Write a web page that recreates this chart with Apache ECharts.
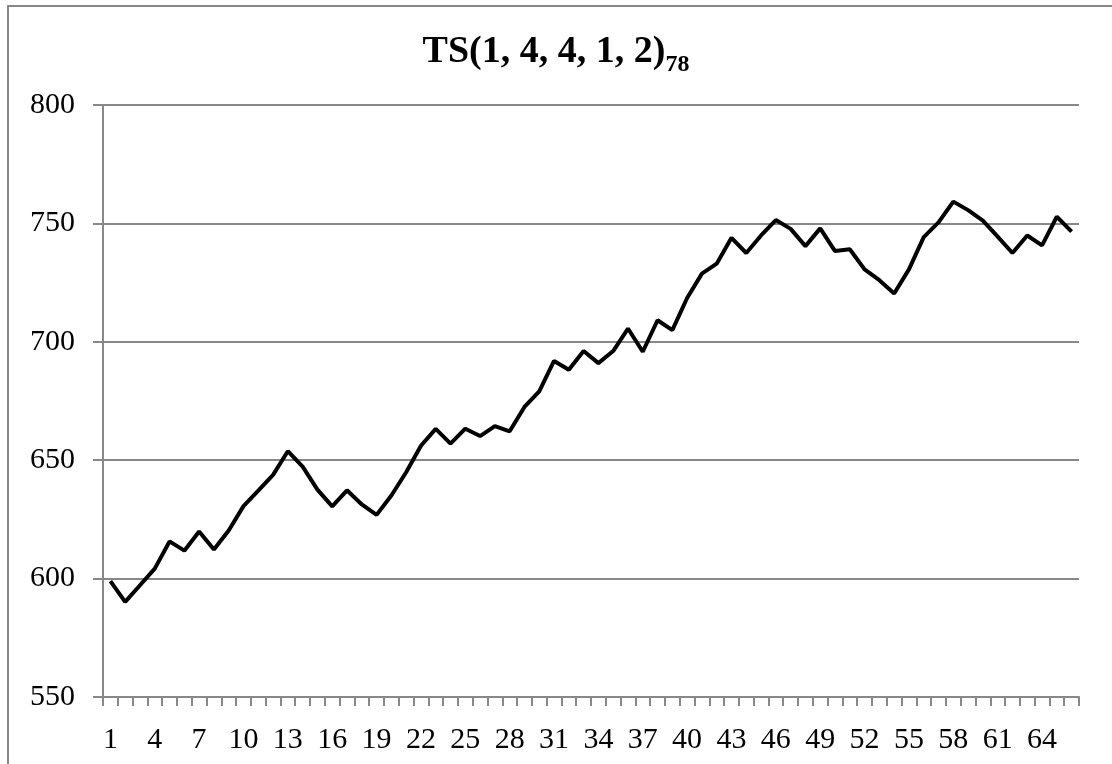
<!DOCTYPE html>
<html>
<head>
<meta charset="utf-8">
<script src="https://cdn.jsdelivr.net/npm/echarts@6/dist/echarts.min.js"></script>
<style>
html,body{margin:0;padding:0;background:#fff;}
#chart{width:1112px;height:764px;}
</style>
</head>
<body>
<div id="chart"></div>
<script>
var titleMain = 'TS(1, 4, 4, 1, 2)';
var titleSub = '78';
var categories = [];
for (var i = 1; i <= 66; i++) categories.push(String(i));
var values = [
  598.9, 590.2, 597.2, 604.2, 615.7, 611.8, 619.9, 612.3, 620.3, 630.6,
  637.2, 643.8, 653.8, 647.3, 637.6, 630.5, 637.3, 631.3, 626.9, 635.1,
  644.9, 656.1, 663.2, 657.0, 663.3, 660.2, 664.4, 662.2, 672.5, 679.1,
  691.9, 688.2, 696.1, 691.0, 696.1, 705.6, 695.8, 709.1, 704.9, 718.5,
  728.8, 733.0, 743.9, 737.5, 744.9, 751.4, 747.7, 740.4, 747.9, 738.3,
  739.1, 730.6, 726.0, 720.4, 730.6, 744.2, 750.4, 759.2, 755.6, 751.2,
  744.4, 737.5, 744.9, 740.7, 752.8, 746.5
];
var yMin = 550, yMax = 800, yStep = 50;

var font = '"Liberation Serif", "DejaVu Serif", serif';
var gray = '#888888';
var chart = echarts.init(document.getElementById('chart'), null, {renderer: 'canvas'});
chart.setOption({
  backgroundColor: '#ffffff',
  animation: false,
  title: {
    text: '{a|' + titleMain + '}{b|' + titleSub + '}',
    left: 'center',
    top: 28,
    textStyle: {
      rich: {
        a: {fontFamily: font, fontSize: 38, fontWeight: 'bold', color: '#000', lineHeight: 44, verticalAlign: 'top'},
        b: {fontFamily: font, fontSize: 24, fontWeight: 'bold', color: '#000', lineHeight: 43, verticalAlign: 'bottom'}
      }
    }
  },
  graphic: [{
    type: 'rect',
    shape: {x: 8, y: 6, width: 1200, height: 900},
    style: {fill: 'none', stroke: gray, lineWidth: 2},
    silent: true
  }],
  grid: {left: 103, right: 33, top: 105, bottom: 67, containLabel: false},
  xAxis: {
    type: 'category',
    data: categories,
    boundaryGap: true,
    axisLine: {show: true, lineStyle: {color: gray, width: 2}},
    axisTick: {show: true, interval: 0, length: 9, lineStyle: {color: gray, width: 2}},
    axisLabel: {interval: 2, margin: 28, fontFamily: font, fontSize: 30, color: '#000'},
    splitLine: {show: false}
  },
  yAxis: {
    type: 'value',
    min: yMin, max: yMax, interval: yStep,
    axisLine: {show: true, lineStyle: {color: gray, width: 2}},
    axisTick: {show: true, length: 10, lineStyle: {color: gray, width: 2}},
    axisLabel: {margin: 28, fontFamily: font, fontSize: 30, color: '#000'},
    splitLine: {show: true, lineStyle: {color: gray, width: 2}}
  },
  series: [{
    type: 'line',
    data: values,
    symbol: 'none',
    lineStyle: {color: '#000', width: 4},
    itemStyle: {color: '#000'}
  }]
});
</script>
</body>
</html>
